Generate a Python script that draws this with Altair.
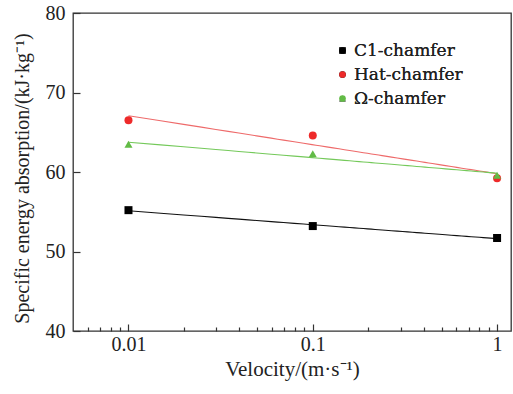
import altair as alt
import pandas as pd

velocity = [0.01, 0.1, 1]
c1 = [55.2, 53.2, 51.7]
hat = [66.5, 64.6, 59.2]
omega = [63.5, 62.3, 59.6]
series_names = ["C1-chamfer", "Hat-chamfer", "Ω-chamfer"]
point_colors = ["#000000", "#ee2a2a", "#62bb46"]
line_colors = ["#111111", "#ee6a6a", "#74c95a"]
shapes = ["square", "circle", "triangle-up"]
y_ticks = [40, 50, 60, 70, 80]
x_major = [0.01, 0.1, 1]
x_minor = [0.006, 0.007, 0.008, 0.009,
           0.02, 0.03, 0.04, 0.05, 0.06, 0.07, 0.08, 0.09,
           0.2, 0.3, 0.4, 0.5, 0.6, 0.7, 0.8, 0.9]

rows = []
for name, vals in zip(series_names, [c1, hat, omega]):
    for v, s in zip(velocity, vals):
        rows.append({"series": name, "v": v, "sea": s})
df = pd.DataFrame(rows)

FONT = "Times New Roman"
xscale = alt.Scale(type="log", domain=[0.005, 1.19], nice=False)
yscale = alt.Scale(domain=[40, 80], nice=False, zero=False)

base = alt.Chart(df)

lines = base.transform_regression(
    "v", "sea", method="log", groupby=["series"], extent=[0.01, 1]
).mark_line(strokeWidth=1.1).encode(
    x=alt.X("v:Q", scale=xscale,
            axis=alt.Axis(orient="bottom", values=x_major, labels=False, title=None,
                          domain=False, grid=False, tickSize=7, offset=-7,
                          tickColor="#333", tickWidth=1.2)),
    y=alt.Y("sea:Q", scale=yscale,
            axis=alt.Axis(orient="left", values=y_ticks, labels=False, title=None,
                          domain=False, grid=False, tickSize=7, offset=-7,
                          tickColor="#333", tickWidth=1.2)),
    color=alt.Color("series:N", scale=alt.Scale(domain=series_names, range=line_colors),
                    legend=None),
    detail="series:N",
)

points = base.mark_point(filled=True, opacity=1, size=64).encode(
    x=alt.X("v:Q", scale=xscale,
            axis=alt.Axis(orient="bottom", values=x_major, format=".2~f",
                          title="Velocity/(m·s⁻¹)", ticks=False, domain=False, grid=False,
                          labelPadding=3, titlePadding=4, titleFontSize=21)),
    y=alt.Y("sea:Q", scale=yscale,
            axis=alt.Axis(orient="left", values=y_ticks,
                          title="Specific energy absorption/(kJ·kg⁻¹)", ticks=False,
                          domain=False, grid=False, labelPadding=8, titlePadding=13,
                          titleFontSize=20, titleY=165)),
    color=alt.Color("series:N", scale=alt.Scale(domain=series_names, range=point_colors),
                    legend=alt.Legend(title=None)),
    shape=alt.Shape("series:N", scale=alt.Scale(domain=series_names, range=shapes),
                    legend=alt.Legend(title=None)),
)

minor = base.mark_point(opacity=0).encode(
    x=alt.X("v:Q", scale=xscale,
            axis=alt.Axis(orient="bottom", values=x_minor, labels=False, title=None,
                          domain=False, grid=False, tickSize=4, offset=-4,
                          tickColor="#333", tickWidth=1.2)),
    y=alt.Y("sea:Q", scale=yscale, axis=None),
)

chart = alt.layer(lines, points, minor).resolve_axis(
    x="independent", y="independent"
).resolve_scale(
    color="independent"
).properties(
    width=438, height=318,
    autosize=alt.AutoSizeParams(type="none"),
    padding={"left": 73, "top": 13, "right": 2, "bottom": 63},
    background="white",
).configure(
    font=FONT
).configure_view(
    stroke="#333", strokeWidth=1.3
).configure_axis(
    labelFont=FONT, labelFontSize=20, labelColor="#222",
    titleFont=FONT, titleFontWeight="normal", titleColor="#222",
).configure_legend(
    orient="none", legendX=261, legendY=29,
    labelColor="#222", labelFont="DejaVu Serif",
    labelFontSize=17, symbolSize=45, rowPadding=6, labelOffset=3, padding=0,
    labelLimit=300
)

chart.save("out.html", embed_options={"renderer": "svg", "actions": False})
